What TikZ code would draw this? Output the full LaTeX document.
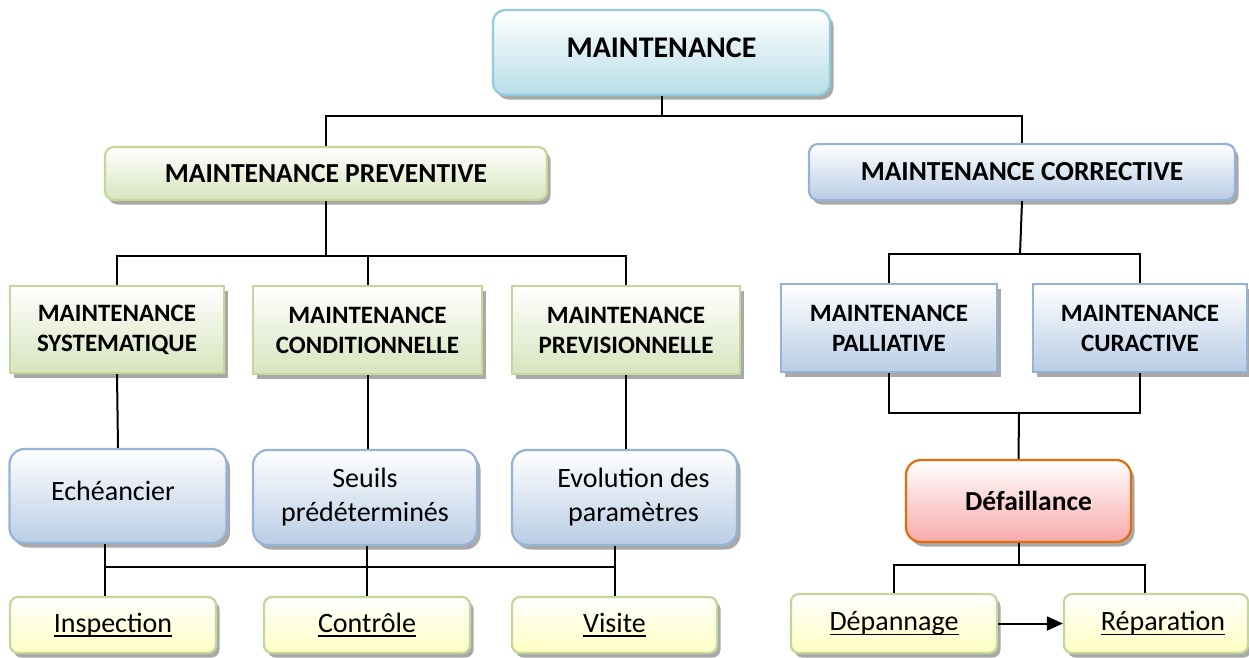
\documentclass[tikz,border=0pt]{standalone}
\usepackage{fontspec}
\setmainfont{Carlito}
\usetikzlibrary{shadows,arrows.meta}
\definecolor{tealB}{HTML}{93CDDD}
\definecolor{tealF}{HTML}{B7DEE8}
\definecolor{grnB}{HTML}{C3D69B}
\definecolor{grnF}{HTML}{D7E4BD}
\definecolor{bluB}{HTML}{95B3D7}
\definecolor{bluF}{HTML}{B9CDE5}
\definecolor{ylwF}{HTML}{FFFFC2}
\definecolor{orgB}{HTML}{E46C0A}
\definecolor{pnkF}{HTML}{F8AAAA}
\definecolor{shd}{HTML}{9A9A9A}
\newcommand{\myul}[1]{\setbox0\hbox{#1}\rlap{\rule[-4.5pt]{\wd0}{1.5pt}}\box0}
\begin{document}
\begin{tikzpicture}[x=1pt,y=-1pt,
  box/.style={draw, line width=2.2pt, align=center, inner sep=0pt,
    drop shadow={shadow xshift=3.5pt,shadow yshift=-4.5pt,fill=shd,opacity=0.85}},
  topbox/.style={box, draw=tealB, top color=white, bottom color=tealF, rounded corners=12pt,
    font=\fontsize{30}{36}\selectfont\bfseries},
  greenhead/.style={box, draw=grnB, top color=white, bottom color=grnF, rounded corners=9pt,
    font=\fontsize{27.5}{33}\selectfont\bfseries},
  bluehead/.style={box, draw=bluB, top color=white, bottom color=bluF, rounded corners=9pt,
    font=\fontsize{27.5}{33}\selectfont\bfseries},
  greensub/.style={box, draw=grnB, top color=white, bottom color=grnF,
    font=\fontsize{25}{30}\selectfont\bfseries},
  bluesub/.style={box, draw=bluB, top color=white, bottom color=bluF,
    font=\fontsize{25}{30}\selectfont\bfseries},
  bluernd/.style={box, draw=bluB, top color=white, bottom color=bluF, rounded corners=15pt,
    font=\fontsize{28}{34}\selectfont},
  ylw/.style={box, draw=grnB, top color=white, bottom color=ylwF, rounded corners=8pt,
    font=\fontsize{28}{34}\selectfont},
  failbox/.style={box, draw=orgB, top color=white, bottom color=pnkF, rounded corners=15pt,
    font=\fontsize{27.5}{33}\selectfont\bfseries},
  conn/.style={draw=black, line width=2pt}
]
\useasboundingbox (0,0) rectangle (1249,657);

\node[topbox, minimum width=337pt, minimum height=85pt, text height=19pt, text depth=10pt] (top) at (661.5,52.5) {MAINTENANCE};

\node[greenhead, minimum width=442pt, minimum height=53pt] (prev) at (326,173.5) {MAINTENANCE PREVENTIVE};
\node[bluehead, minimum width=426pt, minimum height=56pt] (corr) at (1022,172) {MAINTENANCE CORRECTIVE};

\node[greensub, minimum width=214pt, minimum height=87pt] (sys) at (117,329.5) {MAINTENANCE\\SYSTEMATIQUE};
\node[greensub, minimum width=229pt, minimum height=88pt] (cond) at (367.5,330) {MAINTENANCE\\CONDITIONNELLE};
\node[greensub, minimum width=228pt, minimum height=88pt] (previs) at (626,330) {MAINTENANCE\\PREVISIONNELLE};

\node[bluesub, minimum width=216pt, minimum height=88pt] (pall) at (889,328) {MAINTENANCE\\PALLIATIVE};
\node[bluesub, minimum width=214pt, minimum height=88pt] (cur) at (1140,328) {MAINTENANCE\\CURACTIVE};

\node[bluernd, minimum width=217pt, minimum height=94pt, text height=20pt, text depth=12pt] (ech) at (118,496) {\hspace*{-10pt}Echéancier};
\node[bluernd, minimum width=224pt, minimum height=95pt] (seuils) at (365,497.5) {Seuils\\prédéterminés};
\node[bluernd, minimum width=225pt, minimum height=95pt] (evol) at (624.5,497.5) {\hspace*{18pt}Evolution des\\\hspace*{18pt}paramètres};

\node[ylw, minimum width=206pt, minimum height=56pt] (insp) at (113,625) {\myul{Inspection}};
\node[ylw, minimum width=206pt, minimum height=56pt] (contr) at (367,625) {\myul{Contrôle}};
\node[ylw, minimum width=205pt, minimum height=56pt] (visite) at (614.5,625) {\myul{Visite}};

\node[failbox, minimum width=225pt, minimum height=82pt] (def) at (1018.5,501) {\hspace*{20pt}Défaillance};

\node[ylw, minimum width=206pt, minimum height=59pt] (depan) at (894,623.5) {\myul{Dépannage}};
\node[ylw, minimum width=184pt, minimum height=59pt] (repar) at (1156,623.5) {\hspace*{14pt}\myul{Réparation}};

% junctions
\coordinate (j1) at (661.5,116);
\coordinate (j2) at (326,256);
\coordinate (j3) at (1020,254);
\coordinate (j4) at (1019,413);
\coordinate (j5) at (105,567);
\coordinate (j6) at (615,567);
\coordinate (j7) at (1018.5,565);
\coordinate (j8) at (1145,565);

\draw[conn] (top.south) -- (j1);
\draw[conn] (prev.north) |- (j1) -| (corr.north);

\draw[conn] (prev.south) -- (j2);
\draw[conn] (sys.north) |- (j2) -| (previs.north);
\draw[conn] (cond.north) -- (cond.north |- j2);

\draw[conn] (corr.south) -- (j3);
\draw[conn] (pall.north) |- (j3) -| (cur.north);

\draw[conn] (pall.south) |- (j4) -| (cur.south);
\draw[conn] (j4) -- (def.north);

\draw[conn] (sys.south) -- (ech.north);
\draw[conn] (cond.south) -- (cond.south |- seuils.north);
\draw[conn] (previs.south) -- (previs.south |- evol.north);

\draw[conn] (j5 |- ech.south) -- (j5 |- insp.north);
\draw[conn] (j5) -- (j6);
\draw[conn] (contr.north) -- (contr.north |- seuils.south);
\draw[conn] (visite.north) -- (visite.north |- evol.south);

\draw[conn] (def.south) -- (j7);
\draw[conn] (depan.north) |- (j8) -- (j8 |- repar.north);

\draw[conn, -{Triangle[length=16pt,width=14pt]}] (depan.east) -- (repar.west);
\end{tikzpicture}
\end{document}
